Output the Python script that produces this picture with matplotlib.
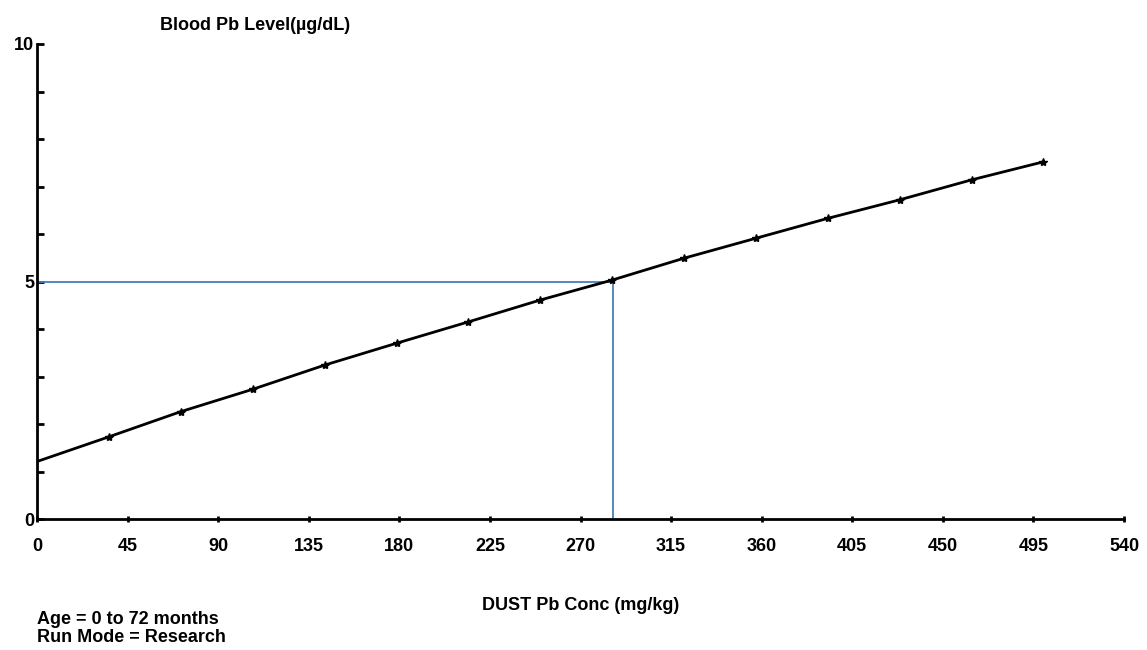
import matplotlib.pyplot as plt
import numpy as np

# dust Pb concentration (mg/kg) and blood Pb (ug/dL)
dust_conc = [0.0, 35.7, 71.4, 107.1, 142.9, 178.6, 214.3, 250.0, 285.7,
             321.4, 357.1, 392.9, 428.6, 464.3, 500.0]
blood_pb = [1.21, 1.73, 2.26, 2.73, 3.24, 3.70, 4.15, 4.61, 5.03,
            5.49, 5.91, 6.33, 6.72, 7.14, 7.52]

x_ticks = [0, 45, 90, 135, 180, 225, 270, 315, 360, 405, 450, 495, 540]
y_labels = [0, 5, 10]

target_level = 5.0
target_conc = 286.3

plt.rcParams['font.family'] = ['Liberation Sans', 'DejaVu Sans']
plt.rcParams['font.weight'] = 'bold'

fig = plt.figure(figsize=(11.47, 6.5), dpi=100)
ax = fig.add_axes([37 / 1147, 1 - 519 / 650, (1124 - 37) / 1147, (519 - 44) / 650])

# reference lines to the 5 ug/dL level
ax.plot([0, target_conc], [target_level, target_level], color="#4a7ebb", lw=1.3, zorder=2)
ax.plot([target_conc, target_conc], [0, target_level], color="#4a7ebb", lw=1.3, zorder=2)

ax.plot(dust_conc, blood_pb, color="black", lw=2.0, marker="*", ms=6,
        markevery=list(range(1, len(dust_conc))), zorder=3)

ax.set_xlim(0, 540)
ax.set_ylim(0, 10)
ax.spines["top"].set_visible(False)
ax.spines["right"].set_visible(False)
ax.spines["left"].set_linewidth(2)
ax.spines["bottom"].set_linewidth(2)

ax.set_xticks(x_ticks)
ax.set_xticklabels([str(t) for t in x_ticks], fontsize=13, fontweight="bold")
ax.tick_params(axis="x", direction="inout", length=4, width=2, pad=12)

ax.set_yticks(np.arange(0, 11, 1))
ax.set_yticklabels([str(v) if v in y_labels else "" for v in range(11)],
                   fontsize=13, fontweight="bold")
ax.tick_params(axis="y", direction="in", length=5, width=2, pad=2)

fig.text(255 / 1147, 1 - 25 / 650, "Blood Pb Level(µg/dL)", ha="center", va="center",
         fontsize=13, fontweight="bold")
fig.text(581 / 1147, 1 - 605 / 650, "DUST Pb Conc (mg/kg)", ha="center", va="center",
         fontsize=13, fontweight="bold")
fig.text(37 / 1147, 1 - 619 / 650, "Age = 0 to 72 months", ha="left", va="center",
         fontsize=13, fontweight="bold")
fig.text(37 / 1147, 1 - 638 / 650, "Run Mode = Research", ha="left", va="center",
         fontsize=13, fontweight="bold")

fig.savefig("out.png", dpi=100)
